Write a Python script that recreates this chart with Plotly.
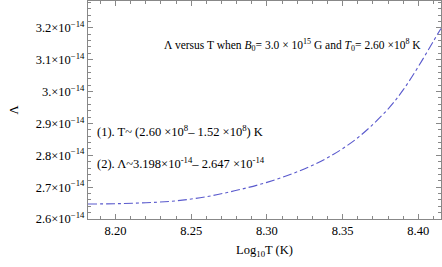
import plotly.graph_objects as go

log_t = [8.1818, 8.20, 8.22, 8.24, 8.26, 8.28, 8.30, 8.32, 8.34, 8.36, 8.38, 8.39, 8.40, 8.41, 8.415]
lam = [2.647, 2.648, 2.651, 2.657, 2.670, 2.690, 2.715, 2.748, 2.792, 2.855, 2.945, 3.005, 3.078, 3.158, 3.198]
lam = [v * 1e-14 for v in lam]

x_ticks = [8.20, 8.25, 8.30, 8.35, 8.40]
x_ticktext = ["8.20", "8.25", "8.30", "8.35", "8.40"]
y_ticks = [2.6e-14, 2.7e-14, 2.8e-14, 2.9e-14, 3.0e-14, 3.1e-14, 3.2e-14]
y_ticktext = ["2.6×10<sup>−14</sup>", "2.7×10<sup>−14</sup>", "2.8×10<sup>−14</sup>", "2.9×10<sup>−14</sup>",
              "3.×10<sup>−14</sup>", "3.1×10<sup>−14</sup>", "3.2×10<sup>−14</sup>"]

FONT = "Liberation Serif"

fig = go.Figure()
fig.add_trace(go.Scatter(x=log_t, y=lam, mode="lines",
                         line=dict(color="#5a5acd", width=1.1, dash="dashdot", shape="spline"),
                         showlegend=False, hoverinfo="skip"))

fig.update_layout(
    width=442, height=267,
    margin=dict(l=88, r=1, t=1, b=48),
    paper_bgcolor="white", plot_bgcolor="white",
    font=dict(family=FONT, size=12, color="black"),
    xaxis=dict(range=[8.1818, 8.415], tickvals=x_ticks, ticktext=x_ticktext,
               ticks="inside", ticklen=5, tickcolor="#888", showgrid=False, zeroline=False,
               showline=True, linecolor="#888", linewidth=1, mirror="allticks",
               minor=dict(dtick=0.01, tick0=8.2, ticks="inside", ticklen=3, tickcolor="#888"),
               title=dict(text="Log<sub>10</sub>T (K)", font=dict(size=12.5), standoff=8),
               tickfont=dict(size=12.5)),
    yaxis=dict(range=[2.6e-14, 3.284e-14], tickvals=y_ticks, ticktext=y_ticktext,
               ticks="inside", ticklen=5, tickcolor="#888", showgrid=False, zeroline=False,
               showline=True, linecolor="#888", linewidth=1, mirror="allticks",
               minor=dict(dtick=0.02e-14, tick0=2.6e-14, ticks="inside", ticklen=3, tickcolor="#888"),
               title=dict(text="Λ", font=dict(size=12.5), standoff=14),
               tickfont=dict(size=12.5)),
)

fig.add_annotation(xref="x", yref="y", x=8.3168, y=3.147e-14,
                   text="Λ versus T when <i>B</i><sub>0</sub>= 3.0 × 10<sup>15</sup> G and <i>T</i><sub>0</sub>= 2.60 ×10<sup>8</sup> K",
                   showarrow=False, xanchor="center", font=dict(size=11.5))
fig.add_annotation(xref="paper", yref="y", x=0.02, y=2.875e-14, xanchor="left",
                   text="(1). T~ (2.60 ×10<sup>8</sup>– 1.52 ×10<sup>8</sup>) K",
                   showarrow=False, font=dict(size=12.5))
fig.add_annotation(xref="paper", yref="y", x=0.02, y=2.775e-14, xanchor="left",
                   text="(2). Λ~3.198×10<sup>-14</sup>– 2.647 ×10<sup>-14</sup>",
                   showarrow=False, font=dict(size=12.5))

fig.write_html("out.html", config={"displayModeBar": False})

with open("out.html", encoding="utf-8") as f:
    html = f.read()
html = html.replace("<head>", "<head><style>html,body{margin:0;padding:0;overflow:hidden;}</style>", 1)
with open("out.html", "w", encoding="utf-8") as f:
    f.write(html)
